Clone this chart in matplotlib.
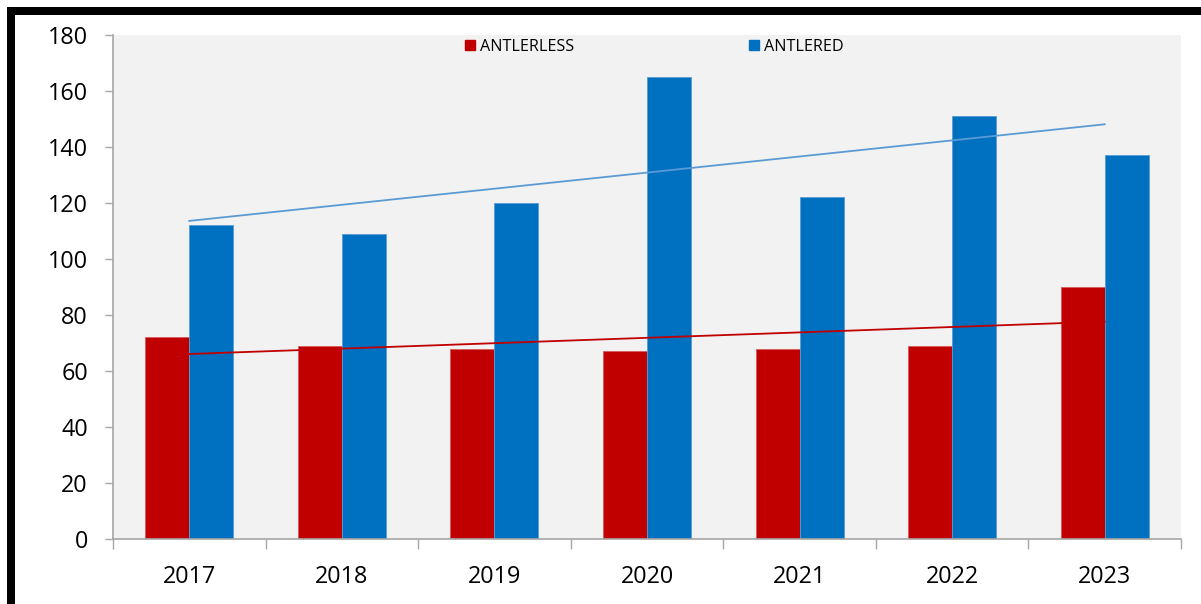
import matplotlib
matplotlib.use("Agg")
import matplotlib.pyplot as plt
import numpy as np
from matplotlib.lines import Line2D
from matplotlib.patches import Rectangle

years = ["2017", "2018", "2019", "2020", "2021", "2022", "2023"]
antlerless = [72, 69, 68, 67, 68, 69, 90]
antlered = [112, 109, 120, 165, 122, 151, 137]

red = "#c00000"
blue = "#0070c0"
trend_blue = "#5b9bd5"

plt.rcParams['font.family'] = ['Open Sans', 'DejaVu Sans']

W, H = 1201, 604
fig = plt.figure(figsize=(W / 100, H / 100), dpi=100)
fig.patch.set_facecolor("white")

# black frame lines (top and left)
fig.add_artist(Rectangle((7 / W, 1 - 15 / H), 1 - 7 / W, 8 / H, transform=fig.transFigure,
                         facecolor="black", edgecolor="none"))
fig.add_artist(Rectangle((7 / W, 0), 8 / W, 1 - 7 / H, transform=fig.transFigure,
                         facecolor="black", edgecolor="none"))

ax = fig.add_axes([113 / W, (H - 539) / H, 1068 / W, 504 / H])
ax.set_facecolor("#f2f2f2")

x = np.arange(len(years))
bw = 0.288
ax.bar(x - bw / 2, antlerless, bw, color=red, edgecolor="#d65a5a", linewidth=0.6, zorder=2)
ax.bar(x + bw / 2, antlered, bw, color=blue, edgecolor="#5b9bd5", linewidth=0.6, zorder=2)

# linear trend lines
for vals, col in ((antlerless, red), (antlered, trend_blue)):
    k, b = np.polyfit(x, vals, 1)
    ax.plot(x, k * x + b, color=col, linewidth=1.3, zorder=3)

ax.set_xlim(-0.5, len(years) - 0.5)
ax.set_ylim(0, 180)
ax.set_yticks(range(0, 181, 20))
ax.set_xticks(x)
ax.set_xticklabels(years)
ax.set_xticks(np.arange(-0.5, len(years), 1), minor=True)
ax.tick_params(axis="x", which="major", length=0, pad=19, labelsize=16.8)
ax.tick_params(axis="x", which="minor", length=7, color="#a6a6a6", width=1)
ax.tick_params(axis="y", length=6, color="#a6a6a6", width=1, pad=12, labelsize=16.8)

for s in ("top", "right"):
    ax.spines[s].set_visible(False)
for s in ("left", "bottom"):
    ax.spines[s].set_color("#a6a6a6")
    ax.spines[s].set_linewidth(1.2)

handles = [Line2D([], [], marker="s", linestyle="none", markersize=7, color=red),
           Line2D([], [], marker="s", linestyle="none", markersize=7, color=blue)]
fig.legend(handles, ["ANTLERLESS", "ANTLERED"], ncol=2, frameon=False,
           loc="center", bbox_to_anchor=(654 / W, 1 - 47 / H), fontsize=11.6,
           handlelength=0.7, handletextpad=0.3, columnspacing=10.8)

fig.savefig("out.png", dpi=100)
